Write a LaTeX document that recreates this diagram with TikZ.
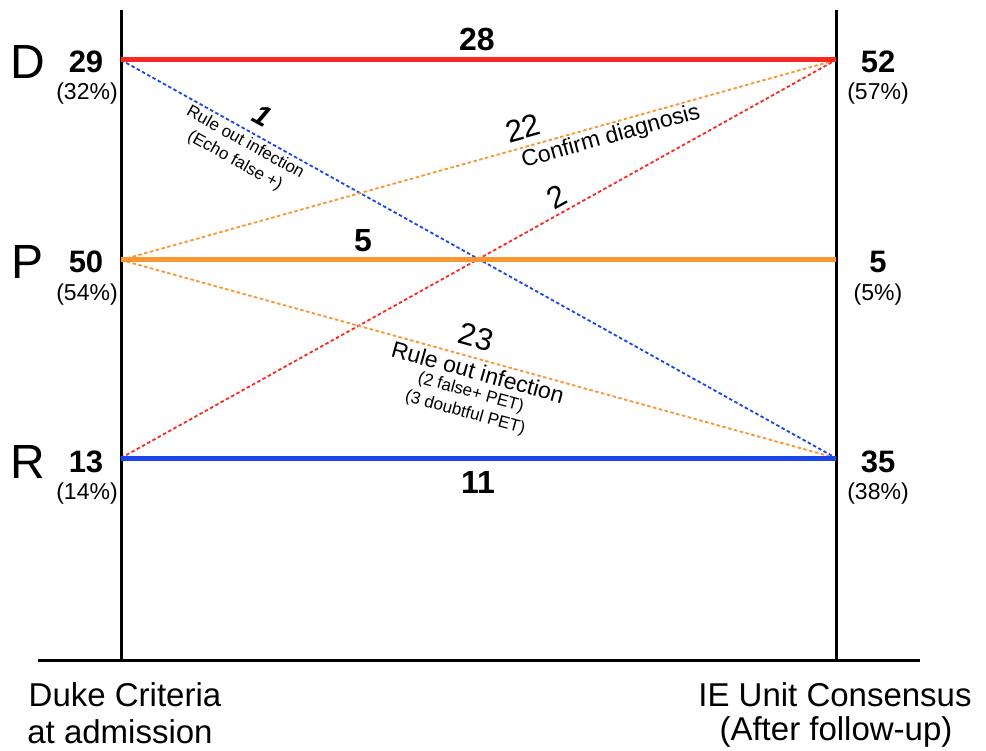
\documentclass[tikz,border=0pt]{standalone}
\usepackage{fontspec}
\setmainfont{Liberation Sans}
\definecolor{cred}{RGB}{250,40,30}
\definecolor{corange}{RGB}{248,150,50}
\definecolor{cblue}{RGB}{25,70,235}
\newcommand{\fsz}[2]{\fontsize{#1}{#2}\selectfont}
\begin{document}
\begin{tikzpicture}[x=1pt,y=-1pt,
  axis/.style={line width=3pt,black},
  solidflow/.style={line width=5pt},
  dashflow/.style={line width=1.8pt,dash pattern=on 3.5pt off 2.5pt},
  letter/.style={font=\fsz{48}{48}},
  count/.style={font=\bfseries\fsz{31}{31}},
  pct/.style={font=\fsz{23}{23}},
  flowcount/.style={font=\bfseries\fsz{32}{32}},
  diagcount/.style={font=\fsz{31}{31}},
  diaglabel/.style={font=\fsz{23}{23},align=center},
  smalllabel/.style={font=\fsz{17}{21},align=center,inner sep=0pt},
  axislabel/.style={font=\fsz{33}{33},align=center,inner sep=0pt}
]
\useasboundingbox (0,0) rectangle (986,751);
% anchor coordinates
\coordinate (LT) at (121,10);
\coordinate (LB) at (121,660);
\coordinate (RT) at (836,10);
\coordinate (RB) at (836,660);
\coordinate (BL) at (38,660);
\coordinate (BR) at (920,660);
\coordinate (LD) at (121,60);
\coordinate (LP) at (121,260);
\coordinate (LR) at (121,458);
\coordinate (RD) at (836,60);
\coordinate (RP) at (836,260);
\coordinate (RR) at (836,458);
% axes
\draw[axis] (LT) -- (LB);
\draw[axis] (RT) -- (RB);
\draw[axis] (BL) -- (BR);
% dashed flows
\draw[dashflow,cblue] (LD) -- (RR);
\draw[dashflow,corange] (LP) -- (RD);
\draw[dashflow,cred] (LR) -- (RD);
\draw[dashflow,corange] (LP) -- (RR);
% solid flows
\draw[solidflow,cred] (LD) -- (RD);
\draw[solidflow,corange] (LP) -- (RP);
\draw[solidflow,cblue] (LR) -- (RR);
% flow counts
\node[flowcount] (n28) at (477,39) {28};
\node[flowcount] (n5) at (363,241) {5};
\node[flowcount] (n11) at (478,482) {11};
% diagonal labels
\node[diagcount,rotate=-29,font=\bfseries\itshape\fsz{29}{29}] (n1) at (262,116) {1};
\node[smalllabel,rotate=-29] (l1) at (240,152) {Rule out infection\\(Echo false +)};
\node[diagcount,rotate=15.6] (n22) at (523,128) {22};
\node[diaglabel,rotate=15.6] (l22) at (611,137) {Confirm diagnosis};
\node[diagcount,rotate=29] (n2) at (557,197) {2};
\node[diagcount,rotate=-15.5] (n23) at (476,337) {23};
\node[diaglabel,rotate=-15.5,inner sep=0pt] (l23) at (478,372) {Rule out infection};
\node[smalllabel,rotate=-15.5] (l23b) at (468,403) {(2 false+ PET)\\(3 doubtful PET)};
% left labels
\node[letter] (D) at (28,62) {D};
\node[letter] (P) at (28,262) {P};
\node[letter] (R) at (28,462) {R};
\node[count] (c29) at (86,62) {29};
\node[pct] (p32) at (87,94) {(32\%)};
\node[count] (c50) at (86,262) {50};
\node[pct] (p54) at (87,295) {(54\%)};
\node[count] (c13) at (86,462) {13};
\node[pct] (p14) at (87,494) {(14\%)};
% right labels
\node[count] (c52) at (878,62) {52};
\node[pct] (p57) at (878,94) {(57\%)};
\node[count] (c5) at (878,262) {5};
\node[pct] (p5) at (878,295) {(5\%)};
\node[count] (c35) at (878,462) {35};
\node[pct] (p38) at (878,494) {(38\%)};
% axis captions
\node[axislabel] (dk1) at (125,695) {Duke Criteria};
\node[axislabel] (dk2) at (120,732) {at admission};
\node[axislabel] (ie1) at (835,695) {IE Unit Consensus};
\node[axislabel] (ie2) at (836,732) {(After follow-up)};
\end{tikzpicture}
\end{document}
